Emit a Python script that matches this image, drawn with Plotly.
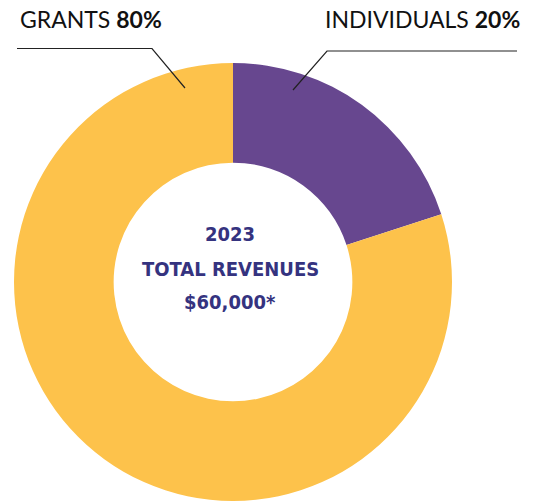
import plotly.graph_objects as go

W, H = 535, 501

categories = ["Individuals", "Grants"]
shares = [20, 80]
colors = ["#67478F", "#FDC24B"]
center_lines = ["2023", "TOTAL REVENUES", "$60,000*"]

def px(x):
    return x / W

def py(y):
    return 1 - y / H

fig = go.Figure()
fig.add_trace(go.Pie(
    labels=categories, values=shares, sort=False, direction="clockwise",
    rotation=0, hole=0.545, textinfo="none", hoverinfo="label+percent",
    marker=dict(colors=colors, line=dict(width=0)),
    domain=dict(x=[px(14), px(452)], y=[py(501), py(63)]),
    showlegend=False,
))

# centre text, one annotation per line for the wide line spacing
for txt, yy in zip(center_lines, [234, 268.5, 302]):
    fig.add_annotation(
        x=px(230), y=py(yy), xref="paper", yref="paper", showarrow=False,
        text=f"<b>{txt}</b>",
        font=dict(family="DejaVu Sans Condensed", size=20, color="#35337F"),
    )

lab_font = dict(family="Lato, Open Sans", size=23, color="#111111")
# grants label (left)
fig.add_annotation(
    x=px(18), y=py(19), xref="paper", yref="paper", showarrow=False,
    xanchor="left", yanchor="middle",
    text=f"{categories[1].upper()} <b>{shares[1]}%</b>", font=lab_font,
)
# individuals label (right)
fig.add_annotation(
    x=px(522), y=py(19), xref="paper", yref="paper", showarrow=False,
    xanchor="right", yanchor="middle",
    text=f"{categories[0].upper()} <b>{shares[0]}%</b>", font=lab_font,
)

line = dict(color="#222222", width=1.2)
fig.add_shape(type="path", xref="paper", yref="paper",
              path=f"M {px(17)} {py(48.5)} L {px(152)} {py(48.5)} L {px(185)} {py(88)}",
              line=line)
fig.add_shape(type="path", xref="paper", yref="paper",
              path=f"M {px(517)} {py(51)} L {px(327)} {py(51)} L {px(293)} {py(90)}",
              line=line)

fig.update_layout(
    width=W, height=H, margin=dict(l=0, r=0, t=0, b=0),
    paper_bgcolor="white", plot_bgcolor="white",
)
# drop the default 8px body margin so the figure sits flush in the window
fig.write_html("out.html", config={"displayModeBar": False},
               post_script="document.body.style.margin='0';")
